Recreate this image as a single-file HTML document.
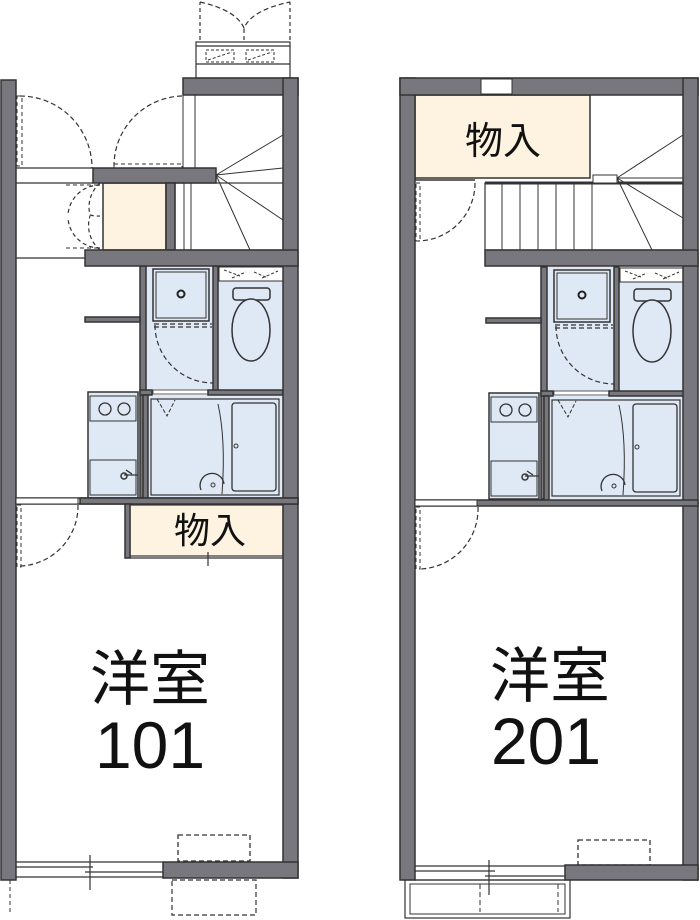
<!DOCTYPE html>
<html><head><meta charset="utf-8"><style>
html,body{margin:0;padding:0;background:#fff;}
svg{display:block;}
text{font-family:"Liberation Sans","Noto Sans CJK JP",sans-serif;fill:#111;}
</style></head><body>
<svg width="700" height="920" viewBox="0 0 700 920" xmlns="http://www.w3.org/2000/svg">
<defs>
<g id="wet">
  <!-- wet area (relative coords based on left unit) -->
  <rect x="146" y="266" width="67" height="124" fill="#dfe8f5"/>
  <rect x="218" y="266" width="65" height="124" fill="#dfe8f5"/>
  <rect x="146" y="395" width="137" height="103" fill="#dfe8f5"/>
  <rect x="88" y="392" width="50" height="106" fill="#dfe8f5" stroke="#333" stroke-width="1.5"/>
  <rect x="153" y="269" width="56" height="52" fill="#dfe8f5" stroke="#333" stroke-width="1.5"/>
  <rect x="156" y="272" width="50" height="46" fill="none" stroke="#333" stroke-width="1"/>
  <circle cx="181" cy="294" r="3.5" fill="none" stroke="#222" stroke-width="2"/>
  <path d="M154 324 H212 M154 327 H212" stroke="#333" stroke-width="1.2" stroke-dasharray="5 3"/>
  <path d="M155 325 A58 58 0 0 0 213 383" fill="none" stroke="#333" stroke-width="1.2" stroke-dasharray="5 3"/>
  <rect x="219" y="267" width="64" height="14" fill="#fff" stroke="#333" stroke-width="1"/>
  <path d="M224 270 L240 276 M232 278 L246 272 M254 272 L268 278 M262 278 L278 271" stroke="#333" stroke-width="1" stroke-dasharray="3 2"/>
  <rect x="233" y="288" width="37" height="12" rx="3" fill="#dfe8f5" stroke="#333" stroke-width="1.5"/>
  <ellipse cx="251" cy="330" rx="19" ry="31" fill="#dfe8f5" stroke="#333" stroke-width="1.5"/>
  <rect x="90" y="396" width="46" height="25" fill="none" stroke="#333" stroke-width="1"/>
  <circle cx="105" cy="409" r="6" fill="none" stroke="#333" stroke-width="1.3"/>
  <circle cx="124" cy="409" r="6" fill="none" stroke="#333" stroke-width="1.3"/>
  <rect x="90" y="460" width="46" height="35" fill="none" stroke="#333" stroke-width="1"/>
  <circle cx="124" cy="476" r="3" fill="none" stroke="#333" stroke-width="1.5"/>
  <path d="M124 475 H138 M126 470 L132 474" stroke="#333" stroke-width="1.3"/>
  <rect x="151" y="399" width="128" height="96" fill="none" stroke="#333" stroke-width="1.2"/>
  <rect x="232" y="403" width="44" height="88" rx="3" fill="none" stroke="#333" stroke-width="1.3"/>
  <circle cx="236" cy="446" r="2" fill="none" stroke="#333"/>
  <path d="M218 404 Q226 440 222 494" fill="none" stroke="#333" stroke-width="1"/>
  <path d="M201 490 A12 12 0 1 1 224 484" fill="none" stroke="#333" stroke-width="1.3"/>
  <circle cx="213" cy="485" r="2" fill="none" stroke="#333"/>
  <path d="M157 399 L167 416 L175 400" fill="none" stroke="#333" stroke-width="1" stroke-dasharray="4 2"/>
  <rect x="153" y="390" width="55" height="4" fill="#fff" stroke="#333" stroke-width="0.8"/>
  <!-- walls -->
  <g fill="#77777d" stroke="#333" stroke-width="1.5">
    <rect x="140" y="266" width="6" height="232"/>
    <rect x="213" y="266" width="5" height="126"/>
    <rect x="140" y="390" width="12" height="5"/>
    <rect x="208" y="390" width="75" height="5"/>
    <rect x="143" y="395" width="5" height="105"/>
    <rect x="85" y="317" width="55" height="5"/>
  </g>
</g>
</defs>

<!-- ============ LEFT UNIT ============ -->
<!-- top balcony -->
<path d="M200 40 V2 M290 40 V2 M244 40 V28" stroke="#333" stroke-width="1.2" stroke-dasharray="4 3"/>
<path d="M200 2 Q236 10 244 28 Q252 10 290 2" fill="none" stroke="#333" stroke-width="1.2" stroke-dasharray="5 3"/>
<rect x="196" y="42" width="94" height="36" fill="#fff" stroke="#333" stroke-width="1.2"/>
<path d="M196 46 H290 M196 64 H290" stroke="#333" stroke-width="1.2"/>
<rect x="206" y="50" width="28" height="12" fill="none" stroke="#333" stroke-dasharray="3 2"/>
<rect x="246" y="50" width="28" height="12" fill="none" stroke="#333" stroke-dasharray="3 2"/>
<path d="M208 60 L232 52 M248 60 L272 52" stroke="#333" stroke-dasharray="3 2"/>

<!-- storage beige + stairs -->
<rect x="103" y="183" width="63" height="67" fill="#fdf3e0" stroke="#333" stroke-width="1.5"/>
<rect x="175" y="183" width="108" height="67" fill="#fff" stroke="#333" stroke-width="1.2"/>
<path d="M184 183 V250 M191 183 V250 M216 175 L250 250 M216 175 L283 220 M216 175 L283 168 M216 175 L283 135" stroke="#333" stroke-width="1"/>
<rect x="183" y="95" width="12" height="73" fill="#fff" stroke="#333" stroke-width="1"/>
<!-- left doors -->
<rect x="17" y="96" width="5" height="70" fill="none" stroke="#333" stroke-dasharray="4 3"/>
<path d="M20 96 A72 72 0 0 1 92 168" fill="none" stroke="#333" stroke-width="1.2" stroke-dasharray="5 3"/>
<path d="M182 96 A70 70 0 0 0 114 166" fill="none" stroke="#333" stroke-width="1.2" stroke-dasharray="5 3"/>
<rect x="114" y="164" width="68" height="4" fill="none" stroke="#333" stroke-dasharray="4 3"/>
<path d="M16 168 H93 M16 183 H93 M16 258 H85" stroke="#333" stroke-width="1.2"/>
<path d="M100 183 A32 32 0 0 0 90 215 A30 30 0 0 0 100 216 M100 250 A32 32 0 0 1 90 216" fill="none" stroke="#333" stroke-width="1.2" stroke-dasharray="4 3"/>
<rect x="66" y="183" width="34" height="67" fill="none" stroke="none"/>
<path d="M66 185 H100 M66 248 H100" stroke="#333" stroke-dasharray="4 3"/>
<path d="M100 185 A32 32 0 0 0 68 215 M100 248 A32 32 0 0 1 68 218" fill="none" stroke="#333" stroke-dasharray="4 3" stroke-width="1.2"/>

<use href="#wet"/>

<!-- 物入 lower -->
<rect x="130" y="505" width="153" height="51" fill="#fdf3e0" stroke="#333" stroke-width="1.2"/>
<text x="210" y="543" font-size="36" text-anchor="middle">物入</text>
<path d="M130 558 H283 M208 552 V566" stroke="#333" stroke-width="1.2"/>
<!-- lower door -->
<rect x="17" y="505" width="4" height="62" fill="none" stroke="#333" stroke-dasharray="4 3"/>
<path d="M78 505 A60 60 0 0 1 20 566" fill="none" stroke="#333" stroke-width="1.2" stroke-dasharray="5 3"/>

<!-- room text -->
<text x="150" y="700" font-size="60" text-anchor="middle">洋室</text>
<text x="150" y="768" font-size="66" text-anchor="middle">101</text>

<!-- bottom window -->
<rect x="178" y="835" width="72" height="26" fill="none" stroke="#333" stroke-width="1.3" stroke-dasharray="5 3"/>
<path d="M16 862 H163 M16 867 H93 M85 872 H163 M16 877 H163 M90 855 V890" stroke="#333" stroke-width="1.2"/>
<rect x="172" y="880" width="84" height="35" fill="none" stroke="#333" stroke-width="1.2" stroke-dasharray="5 3"/>
<path d="M10 880 V915" stroke="#333" stroke-dasharray="4 3"/>

<!-- left walls -->
<g fill="#77777d" stroke="#333" stroke-width="1.5">
  <rect x="1" y="80" width="15" height="800"/>
  <rect x="183" y="78" width="115" height="17"/>
  <rect x="283" y="78" width="15" height="800"/>
  <rect x="93" y="168" width="123" height="15"/>
  <rect x="166" y="183" width="9" height="67"/>
  <rect x="85" y="250" width="213" height="16"/>
  <rect x="16" y="498" width="282" height="6" fill="#fff"/>
  <rect x="80" y="498" width="218" height="6"/>
  <rect x="125" y="504" width="5" height="54"/>
  <rect x="163" y="862" width="135" height="16"/>
</g>

<!-- ============ RIGHT UNIT ============ -->
<rect x="415" y="95" width="175" height="83" fill="#fdf3e0" stroke="#333" stroke-width="1.5"/>
<text x="503" y="154" font-size="38" text-anchor="middle">物入</text>
<rect x="485" y="183" width="198" height="67" fill="#fff" stroke="#333" stroke-width="1.2"/>
<path d="M485 183 H683" stroke="#333" stroke-width="3"/>
<path d="M502 183 V250 M520 183 V250 M538 183 V250 M556 183 V250 M574 183 V250 M592 183 V250 M617 178 L652 250 M617 178 L683 218 M617 178 L683 178 M617 178 L683 135" stroke="#333" stroke-width="1"/>
<rect x="593" y="175" width="24" height="8" fill="#fff" stroke="#333"/>
<rect x="416" y="183" width="4" height="58" fill="none" stroke="#333" stroke-dasharray="4 3"/>
<path d="M475 183 A58 58 0 0 1 418 241" fill="none" stroke="#333" stroke-width="1.2" stroke-dasharray="5 3"/>
<path d="M415 180 H475" stroke="#333" stroke-width="1.5"/>

<use href="#wet" transform="translate(401,1)"/>

<!-- lower door -->
<rect x="416" y="507" width="4" height="62" fill="none" stroke="#333" stroke-dasharray="4 3"/>
<path d="M478 507 A60 60 0 0 1 420 569" fill="none" stroke="#333" stroke-width="1.2" stroke-dasharray="5 3"/>

<text x="550" y="697" font-size="60" text-anchor="middle">洋室</text>
<text x="546" y="764" font-size="66" text-anchor="middle">201</text>

<rect x="578" y="840" width="72" height="25" fill="none" stroke="#333" stroke-width="1.3" stroke-dasharray="5 3"/>
<path d="M415 866 H565 M415 871 H495 M485 876 H565 M415 880 H565 M489 860 V895" stroke="#333" stroke-width="1.2"/>
<rect x="405" y="880" width="165" height="38" fill="none" stroke="#333" stroke-width="1.2"/>
<rect x="410" y="884" width="155" height="30" fill="none" stroke="#333" stroke-width="1"/>
<path d="M480 884 V912 M558 884 V912" stroke="#333" stroke-dasharray="5 3"/>

<g fill="#77777d" stroke="#333" stroke-width="1.5">
  <rect x="400" y="78" width="15" height="802"/>
  <rect x="400" y="78" width="298" height="17"/>
  <rect x="683" y="78" width="15" height="802"/>
  <rect x="485" y="250" width="213" height="16"/>
  <rect x="415" y="500" width="283" height="6"/>
  <rect x="565" y="865" width="133" height="15"/>
</g>
<rect x="481" y="79" width="31" height="15" fill="#fff" stroke="#333"/>
<rect x="415" y="500" width="62" height="6" fill="#fff" stroke="#333"/>
<rect x="16" y="498" width="62" height="6" fill="#fff" stroke="#333"/>
</svg>
</body></html>
